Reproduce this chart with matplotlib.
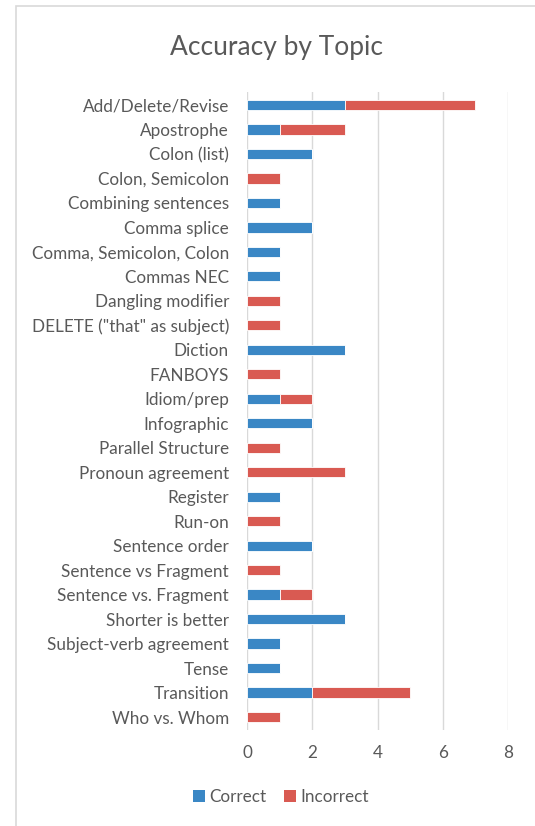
import matplotlib
matplotlib.use("Agg")
import matplotlib.pyplot as plt
from matplotlib.patches import Rectangle, Patch

topics = ["Add/Delete/Revise", "Apostrophe", "Colon (list)", "Colon, Semicolon",
          "Combining sentences", "Comma splice", "Comma, Semicolon, Colon", "Commas NEC",
          "Dangling modifier", "DELETE (\"that\" as subject)", "Diction", "FANBOYS",
          "Idiom/prep", "Infographic", "Parallel Structure", "Pronoun agreement",
          "Register", "Run-on", "Sentence order", "Sentence vs Fragment",
          "Sentence vs. Fragment", "Shorter is better", "Subject-verb agreement",
          "Tense", "Transition", "Who vs. Whom"]
correct = [3, 1, 2, 0, 1, 2, 1, 1, 0, 0, 3, 0, 1, 2, 0, 0, 1, 0, 2, 0, 1, 3, 1, 1, 2, 0]
incorrect = [4, 2, 0, 1, 0, 0, 0, 0, 1, 1, 0, 1, 1, 0, 1, 3, 0, 1, 0, 1, 1, 0, 0, 0, 3, 1]
xticks = [0, 2, 4, 6, 8]

plt.rcParams['font.family'] = ['Lato', 'DejaVu Sans']
TXT = "#595959"
BLUE = "#3A87C5"
RED = "#D95A52"

fig = plt.figure(figsize=(5.35, 8.26), dpi=100)
fig.patches.append(Rectangle((16/535, -0.1), 1.0, 1.1 - 6/826, transform=fig.transFigure,
                             fill=False, edgecolor="#D9D9D9", linewidth=1.2))
ax = fig.add_axes([247/535, 1-730/826, (508-247)/535, (730-92)/826])

y = list(range(len(topics)))
ax.barh(y, correct, height=0.42, color=BLUE, edgecolor="white", linewidth=0.6, label="Correct", zorder=3)
ax.barh(y, incorrect, left=correct, height=0.42, color=RED, edgecolor="white", linewidth=0.6,
        label="Incorrect", zorder=3)

ax.set_ylim(len(topics) - 0.47, -0.53)
ax.set_xlim(0, 8)
ax.set_xticks(xticks)
ax.set_xticklabels([str(t) for t in xticks])
ax.set_yticks(y)
ax.set_yticklabels(topics)
ax.grid(axis="x", color="#D9D9D9", linewidth=1.0, zorder=0)
for s in ax.spines.values():
    s.set_visible(False)
ax.tick_params(axis="both", length=0, colors=TXT, labelsize=12.3)
ax.tick_params(axis="y", pad=13)
ax.tick_params(axis="x", pad=11)

fig.text(277/535, 1-47/826, "Accuracy by Topic", ha="center", va="center", fontsize=19, color=TXT)

handles = [Patch(facecolor=BLUE), Patch(facecolor=RED)]
fig.legend(handles, ["Correct", "Incorrect"], loc="center", bbox_to_anchor=(281/535, 1-797/826),
           ncol=2, frameon=False, fontsize=12.3, labelcolor=TXT, handlelength=0.7, handleheight=0.7,
           handletextpad=0.25, columnspacing=1.0)

fig.savefig("out.png", dpi=100)
